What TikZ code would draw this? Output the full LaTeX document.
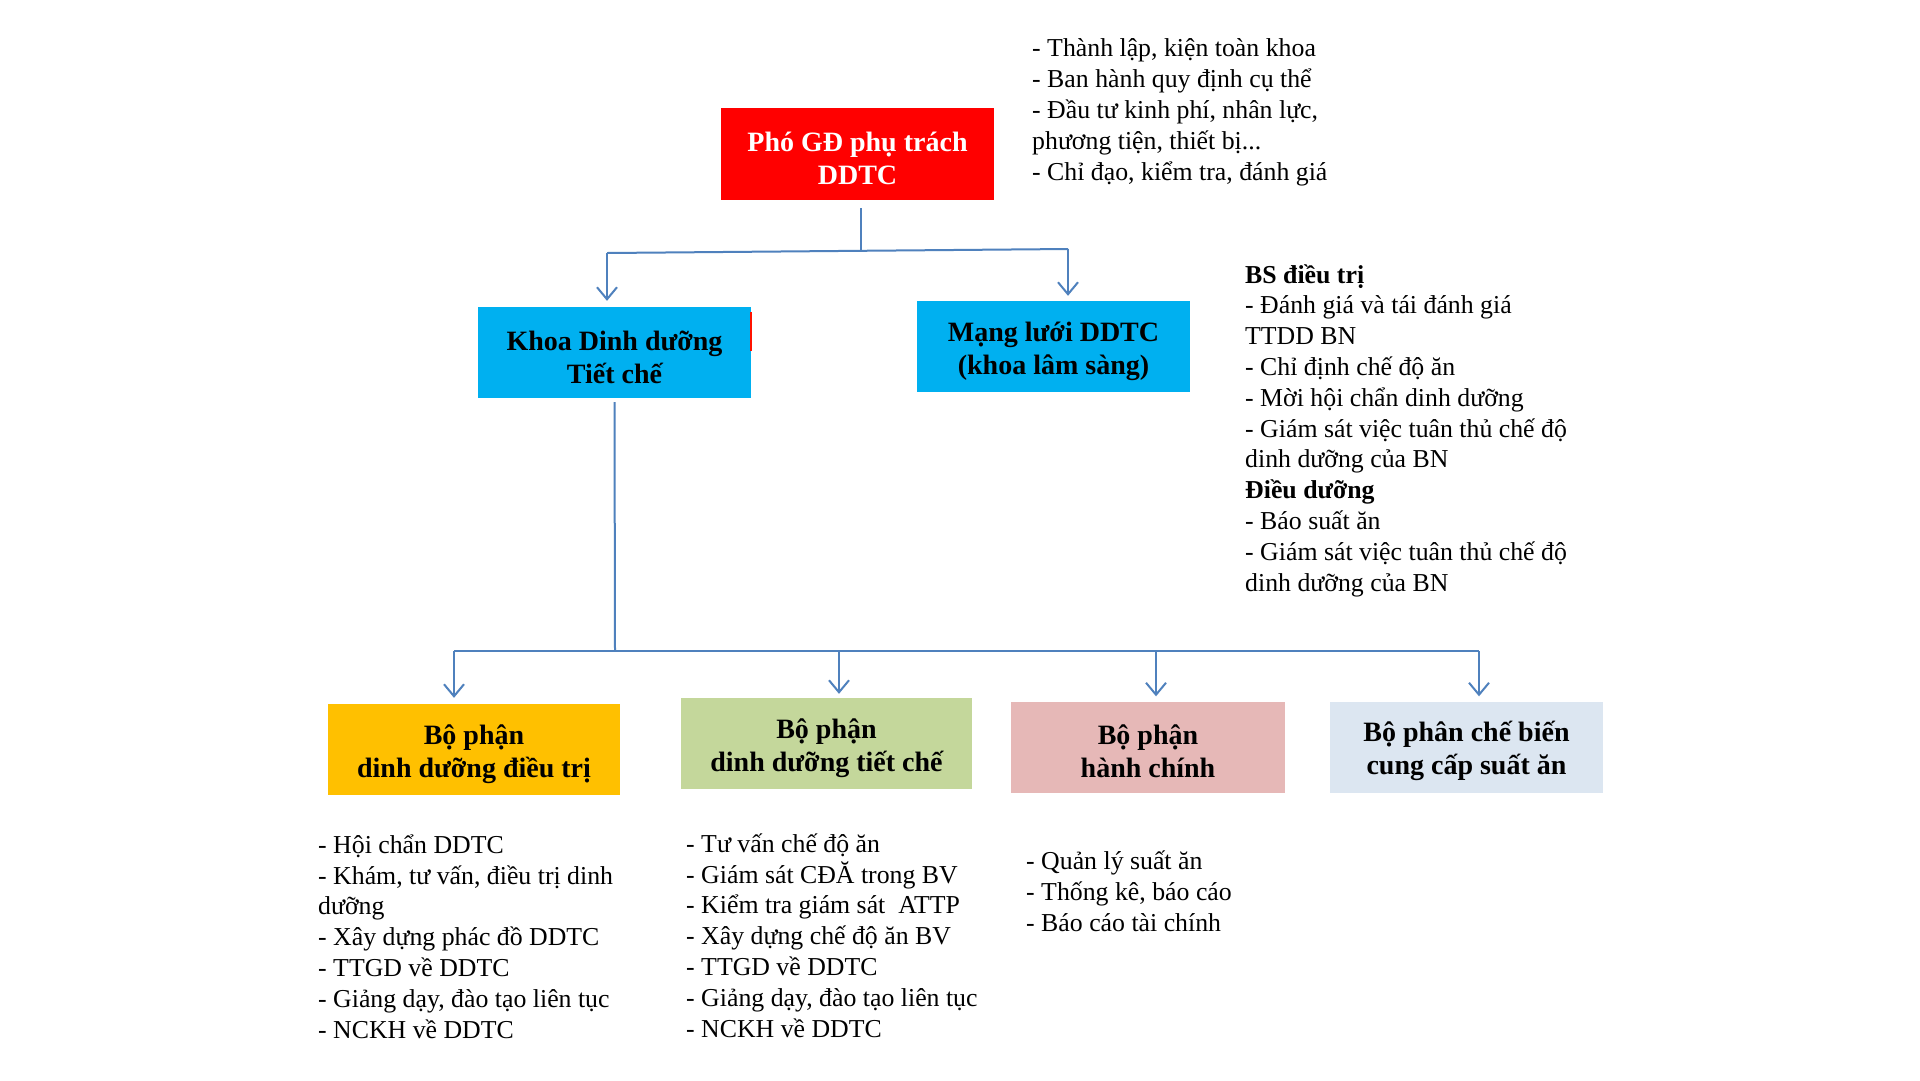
\documentclass[tikz,border=0pt]{standalone}
\usepackage{fontspec}
\setmainfont{Liberation Serif}
\usetikzlibrary{arrows.meta}
\definecolor{cred}{HTML}{FF0000}
\definecolor{ccyan}{HTML}{00B0F0}
\definecolor{cyel}{HTML}{FFC000}
\definecolor{cgreen}{HTML}{C4D79B}
\definecolor{cpink}{HTML}{E6B8B7}
\definecolor{clblue}{HTML}{DCE6F1}
\definecolor{cline}{HTML}{4F81BD}
\newcommand\bxs{\rule{0pt}{29pt}}
\begin{document}
\begin{tikzpicture}[x=1pt,y=-1pt,
  box/.style={minimum width=273pt, minimum height=91pt, inner sep=0pt, align=center,
    font=\fontsize{28}{33}\selectfont\bfseries},
  txt/.style={anchor=base west, inner sep=0pt, align=left,
    font=\fontsize{25.8}{30.8}\selectfont},
  conn/.style={draw=cline, line width=2pt},
  arr/.style={conn, -{Straight Barb[length=12pt,width=20pt]}}]
\fill[white] (0,0) rectangle (1920,1080);
\useasboundingbox (0,0) rectangle (1920,1080);

% boxes
\node[box, fill=cred, text=white, minimum height=92pt] (gd) at (857.5,154) {\bxs Phó GĐ phụ trách\\DDTC};
\node[box, fill=ccyan] (khoa) at (614.5,352.5) {\bxs Khoa Dinh dưỡng\\Tiết chế};
\node[box, fill=ccyan] (mang) at (1053.5,346.5) {\bxs Mạng lưới DDTC\\(khoa lâm sàng)};
\node[box, fill=cyel, minimum width=292pt] (b1) at (474,749.5) {\bxs Bộ phận\\dinh dưỡng điều trị};
\node[box, fill=cgreen, minimum width=291pt] (b2) at (826.5,743.5) {\bxs Bộ phận\\dinh dưỡng tiết chế};
\node[box, fill=cpink, minimum width=274pt] (b3) at (1148,747) {\bxs Bộ phận\\hành chính};
\node[box, fill=clblue] (b4) at (1466.5,747) {\bxs Bộ phân chế biến\\cung cấp suất ăn};

\draw[red!85!orange, line width=1.5pt] ([yshift=-5pt]khoa.north east) -- ([yshift=-44pt]khoa.north east);

% texts (anchored at the baseline of their last line)
\node[txt] (t0) at (1032,180) {- Thành lập, kiện toàn khoa\\- Ban hành quy định cụ thể\\- Đầu tư kinh phí, nhân lực,\\phương tiện, thiết bị...\\- Chỉ đạo, kiểm tra, đánh giá};
\node[txt] (t1) at (1245,591) {\textbf{BS điều trị}\\- Đánh giá và tái đánh giá\\TTDD BN\\- Chỉ định chế độ ăn\\- Mời hội chẩn dinh dưỡng\\- Giám sát việc tuân thủ chế độ\\dinh dưỡng của BN\\\textbf{Điều dưỡng}\\- Báo suất ăn\\- Giám sát việc tuân thủ chế độ\\dinh dưỡng của BN};
\node[txt] (t2) at (318,1038) {- Hội chẩn DDTC\\- Khám, tư vấn, điều trị dinh\\dưỡng\\- Xây dựng phác đồ DDTC\\- TTGD về DDTC\\- Giảng dạy, đào tạo liên tục\\- NCKH về DDTC};
\node[txt] (t3) at (686,1037) {- Tư vấn chế độ ăn\\- Giám sát CĐĂ trong BV\\- Kiểm tra giám sát~ ATTP\\- Xây dựng chế độ ăn BV\\- TTGD về DDTC\\- Giảng dạy, đào tạo liên tục\\- NCKH về DDTC};
\node[txt] (t4) at (1026,931) {- Quản lý suất ăn\\- Thống kê, báo cáo\\- Báo cáo tài chính};

% top connectors
\coordinate (jt) at (861,251);
\coordinate (aL) at (607,253);
\coordinate (aR) at (1068,249);
\draw[conn] ([yshift=-8pt]gd.south -| jt) -- (jt);
\draw[conn] (aL) -- (aR);
\draw[arr] (aL) -- ([yshift=6pt]aL |- khoa.north);
\draw[arr] (aR) -- ([yshift=5pt]aR |- mang.north);

% bottom connectors
\coordinate (jb) at (615,651);
\coordinate (c1) at (454,651);
\coordinate (c2) at (839,651);
\coordinate (c3) at (1156,651);
\coordinate (c4) at (1479,651);
\draw[conn] ([yshift=-4pt]khoa.south) -- (jb);
\draw[conn] (c1) -- (c4);
\draw[arr] (c1) -- ([yshift=6pt]c1 |- b1.north);
\draw[arr] (c2) -- ([yshift=4pt]c2 |- b2.north);
\draw[arr] (c3) -- ([yshift=5pt]c3 |- b3.north);
\draw[arr] (c4) -- ([yshift=5pt]c4 |- b4.north);
\end{tikzpicture}
\end{document}
